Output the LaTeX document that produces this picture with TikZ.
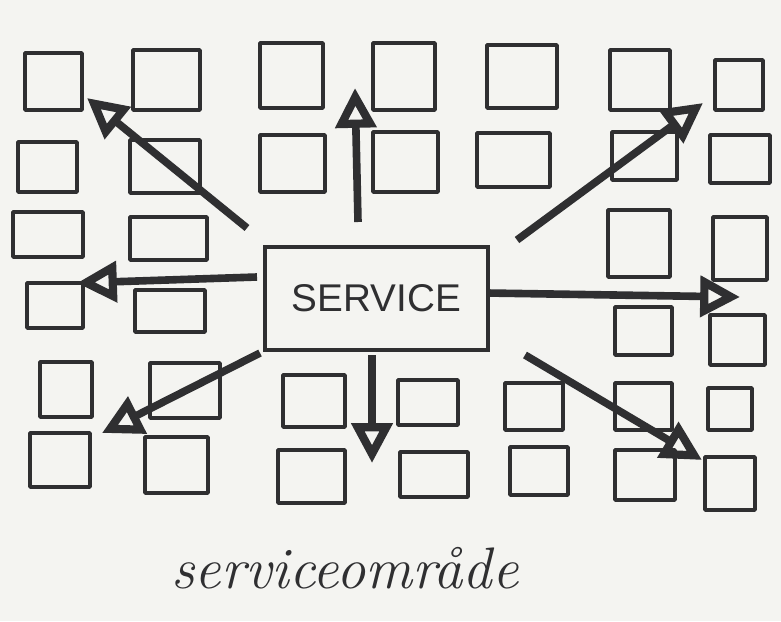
\documentclass[tikz,border=0pt]{standalone}
\usepackage{fontspec}
\usepackage{tikz}
\usetikzlibrary{arrows.meta}
\usepackage{color}
\newfontfamily\letterfont{Liberation Sans}
\definecolor{paper}{HTML}{F4F4F1}
\definecolor{ink}{HTML}{2F2F31}
\tikzset{
  house/.style={draw=ink, line width=3.2pt, inner sep=0pt, line join=round},
  spoke/.style={draw=ink, line width=6.5pt,
    -{Triangle[open, length=34pt, width=34pt, line width=7pt]}},
}
\begin{document}
\begin{tikzpicture}[x=0.3mm, y=-0.3mm]
		\fill[paper] (0,0) rectangle (781,621);
		\useasboundingbox (0,0) rectangle (781,621);
		\foreach \n/\a/\b/\c/\d in {1/25/53/82/110, 2/133/50/200/110, 3/260/43/323/108,
		  4/373/43/435/110, 5/487/45/557/108, 6/610/50/670/110, 7/715/60/763/110,
		  8/18/142/77/192, 9/130/140/200/193, 10/260/135/325/192, 11/373/132/438/192,
		  12/477/133/550/187, 13/612/132/677/180, 14/710/135/770/183,
		  15/13/212/83/257, 16/130/217/207/260, 17/608/210/670/277, 18/713/217/767/280,
		  19/27/283/83/328, 20/135/290/205/332, 21/615/307/672/355, 22/710/315/765/365,
		  23/40/362/92/417, 24/150/363/220/418, 25/283/375/345/427, 26/398/380/458/425,
		  27/505/383/563/430, 28/615/383/672/430, 29/708/388/752/430,
		  30/30/433/90/487, 31/145/437/208/493, 32/278/450/345/503, 33/400/452/468/497,
		  34/510/447/568/495, 35/615/450/675/500, 36/705/457/755/510} % edit here for the houses
		\node[house, minimum width={(\c-\a)*0.3mm}, minimum height={(\d-\b)*0.3mm}]
		  (h\n) at ({(\a+\c)/2},{(\b+\d)/2}) {};
		\node[draw=ink, line width=2.8pt, minimum width=66.9mm, minimum height=30.9mm,
		  font=\letterfont\fontsize{33}{33}\selectfont, text=ink] (service) at (376.5,298.5) {SERVICE};
		\foreach \t/\a/\b/\c/\d in {nw/247/228/87/98, n/358/222/355/88, ne/517/240/703/103,
		  w/257/277/77/283, e/487/293/740/297, sw/260/353/102/433, s/372/355/372/463,
		  se/525/355/702/460} % edit here for the arrows
		{
		\coordinate (from\t) at (\a,\b);
		\coordinate (to\t) at (\c,\d);
		\draw[spoke] (from\t) -- (to\t);
		}
		\node[font=\itshape\fontsize{50}{50}\selectfont, text=ink] (caption) at (345,568) {serviceområde};
\end{tikzpicture}
\end{document}
